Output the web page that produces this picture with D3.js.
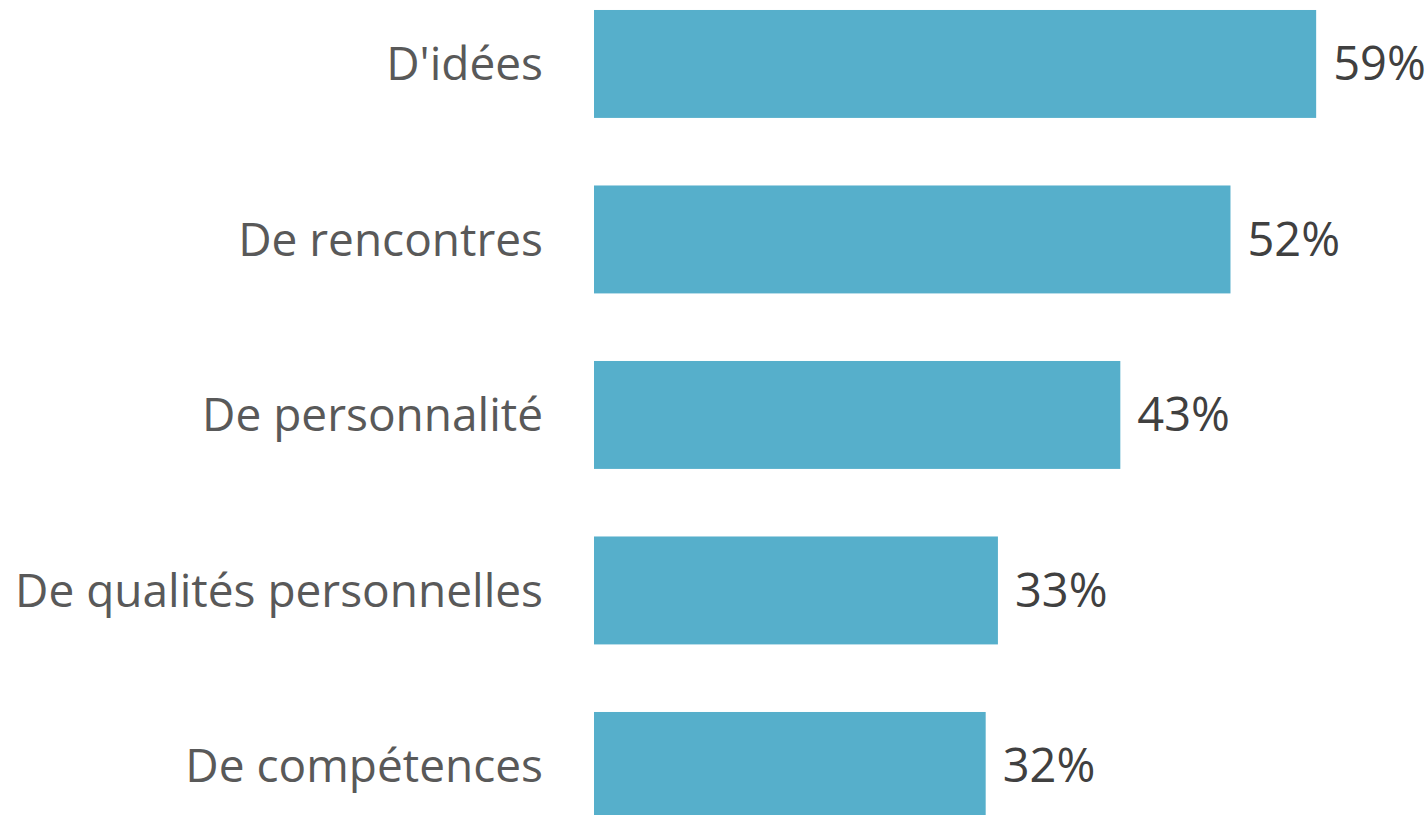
<!DOCTYPE html>
<html>
<head>
<meta charset="utf-8">
<script src="https://cdn.jsdelivr.net/npm/d3@7"></script>
<style>
  html, body { margin: 0; padding: 0; background: #fff; }
  svg { display: block; }
</style>
</head>
<body>
<div id="chart"></div>
<script>
// data
const categories = ["D'idées", "De rencontres", "De personnalité", "De qualités personnelles", "De compétences"];
const values = [59, 52, 43, 33, 32];

const W = 1428, H = 815;
const barLeft = 594;

const svg = d3.select("#chart")
  .append("svg")
  .attr("width", W)
  .attr("height", H);

// x scale: percent -> pixels
const x = d3.scaleLinear()
  .domain([0, 100])
  .range([barLeft, barLeft + 1224]);

// y scale: one band per category
const y = d3.scaleBand()
  .domain(categories)
  .range([-23.8, 853.7])
  .paddingInner(0.385)
  .paddingOuter(0.1925);

const rows = categories.map((c, i) => ({cat: c, val: values[i]}));

// bars
svg.selectAll("rect.bar")
  .data(rows)
  .enter()
  .append("rect")
  .attr("class", "bar")
  .attr("x", x(0))
  .attr("y", d => y(d.cat))
  .attr("width", d => x(d.val) - x(0))
  .attr("height", y.bandwidth())
  .attr("fill", "#56afcb");

// category labels
svg.selectAll("text.cat")
  .data(rows)
  .enter()
  .append("text")
  .attr("class", "cat")
  .attr("x", barLeft - 51)
  .attr("y", d => y(d.cat) + y.bandwidth() / 2)
  .attr("dy", "0.35em")
  .attr("text-anchor", "end")
  .style("font-family", "'Open Sans', sans-serif")
  .style("font-size", "46px")
  .style("fill", "#595959")
  .text(d => d.cat);

// value labels
svg.selectAll("text.val")
  .data(rows)
  .enter()
  .append("text")
  .attr("class", "val")
  .attr("x", d => x(d.val) + 17)
  .attr("y", d => y(d.cat) + y.bandwidth() / 2)
  .attr("dy", "0.35em")
  .style("font-family", "'Open Sans', sans-serif")
  .style("font-size", "47px")
  .style("fill", "#404040")
  .text(d => d.val + "%");
</script>
</body>
</html>
